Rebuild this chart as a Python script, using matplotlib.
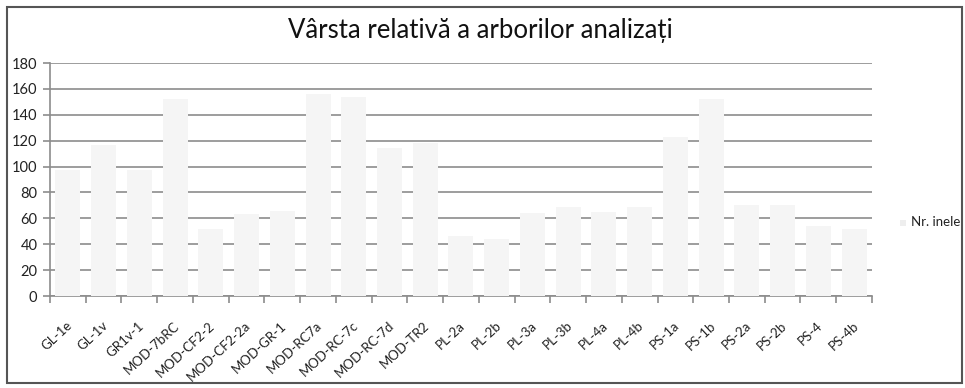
import matplotlib.pyplot as plt
import numpy as np
from matplotlib.patches import Rectangle

plt.rcParams['font.family'] = ['Lato', 'DejaVu Sans']

# Tree samples and their ring counts
samples = ["GL-1e", "GL-1v", "GR1v-1", "MOD-7bRC", "MOD-CF2-2", "MOD-CF2-2a",
           "MOD-GR-1", "MOD-RC7a", "MOD-RC-7c", "MOD-RC-7d", "MOD-TR2",
           "PL-2a", "PL-2b", "PL-3a", "PL-3b", "PL-4a", "PL-4b",
           "PS-1a", "PS-1b", "PS-2a", "PS-2b", "PS-4", "PS-4b"]
rings = [97, 117, 97, 152, 52, 63, 66, 156, 154, 114, 118,
         46, 44, 64, 69, 65, 69, 123, 152, 70, 70, 54, 52]
y_ticks = [0, 20, 40, 60, 80, 100, 120, 140, 160, 180]

grid_col = "#8c8c8c"
bar_col = "#f5f5f5"

fig = plt.figure(figsize=(9.65, 3.88), dpi=100)
ax = fig.add_axes([0.0518, 0.2371, 0.8518, 0.6005])

x = np.arange(len(samples))
bars = ax.bar(x, rings, width=0.7, color=bar_col, zorder=3, label="Nr. inele")

ax.set_xlim(-0.5, len(samples) - 0.5)
ax.set_ylim(0, 180)
ax.set_yticks(y_ticks)
ax.yaxis.grid(True, color=grid_col, linewidth=1.2, zorder=0)
ax.set_axisbelow(True)

# category separators as ticks on the x axis
ax.set_xticks(np.arange(len(samples) + 1) - 0.5)
ax.set_xticklabels([])
ax.tick_params(axis='x', length=5, color=grid_col, width=1.2)
ax.tick_params(axis='y', length=5, color=grid_col, width=1.2, labelsize=10.5,
               labelcolor="#222222", pad=4)
for i, name in enumerate(samples):
    ax.text(i - 0.05, -18, name, rotation=43, ha='right', va='top',
            rotation_mode='anchor', fontsize=9.5, color="#222222")

for side in ["top", "right"]:
    ax.spines[side].set_visible(False)
for side in ["left", "bottom"]:
    ax.spines[side].set_color(grid_col)
    ax.spines[side].set_linewidth(1.2)

fig.text(0.4975, 0.922, "Vârsta relativă a arborilor analizați",
         ha='center', va='center', fontsize=18.5, color="#111111")

# legend entry on the right
fig.patches.append(Rectangle((0.933, 0.418), 0.006, 0.016, transform=fig.transFigure,
                             facecolor="#eeeeee", edgecolor="none"))
fig.text(0.944, 0.428, "Nr. inele", ha='left', va='center', fontsize=9.5, color="#222222")

# outer frame
fig.patches.append(Rectangle((0.007, 0.013), 0.990, 0.970, transform=fig.transFigure,
                             fill=False, edgecolor="#555555", linewidth=1.5))

fig.savefig("out.png", dpi=100)
